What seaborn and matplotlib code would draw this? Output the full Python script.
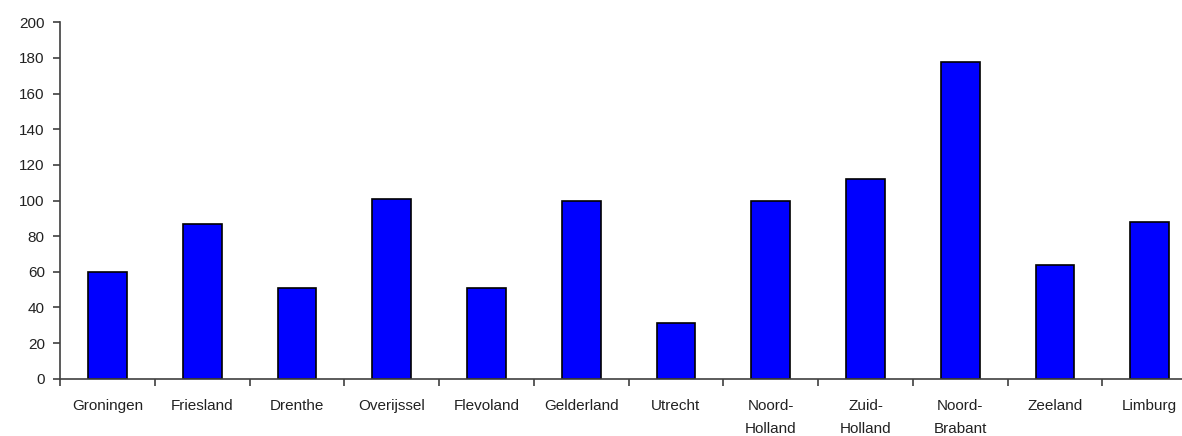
import matplotlib
matplotlib.use("Agg")
import matplotlib.pyplot as plt
import seaborn as sns
import pandas as pd
import numpy as np

provinces = ["Groningen", "Friesland", "Drenthe", "Overijssel", "Flevoland",
             "Gelderland", "Utrecht", "Noord-\nHolland", "Zuid-\nHolland",
             "Noord-\nBrabant", "Zeeland", "Limburg"]
counts = [60, 87, 51, 101, 51, 100, 31, 100, 112, 178, 64, 88]
y_ticks = [0, 20, 40, 60, 80, 100, 120, 140, 160, 180, 200]

sns.set_style("white")
plt.rcParams["font.family"] = ["Liberation Sans", "DejaVu Sans"]

df = pd.DataFrame({"provincie": provinces, "aantal": counts})

fig = plt.figure(figsize=(11.82, 4.36), dpi=100)
ax = fig.add_axes([0.0508, 0.1314, 0.962, 0.8174])

sns.barplot(data=df, x="provincie", y="aantal", color="#0000ff",
            edgecolor="black", linewidth=1.2, width=0.41, saturation=1,
            ax=ax)

axis_col = "#404040"
text_col = "#222222"

ax.set_xlim(-0.5, len(provinces) - 0.5)
ax.set_ylim(0, 200)
ax.set_yticks(y_ticks)
ax.set_xlabel("")
ax.set_ylabel("")

for side in ("top", "right"):
    ax.spines[side].set_visible(False)
for side in ("left", "bottom"):
    ax.spines[side].set_color(axis_col)
    ax.spines[side].set_linewidth(1.2)

# category labels centred under bars, tick marks on the category borders
ax.set_xticks(np.arange(len(provinces)))
ax.set_xticklabels(provinces, fontsize=11, color=text_col, linespacing=1.85)
ax.set_xticks(np.arange(len(provinces)) - 0.5, minor=True)
ax.tick_params(axis="x", which="major", length=0, pad=14.5)
ax.tick_params(axis="x", which="minor", length=5, width=1.2,
               color=axis_col, direction="out", bottom=True)
ax.tick_params(axis="y", which="major", length=5, width=1.2,
               color=axis_col, direction="out", left=True, pad=6,
               labelsize=11, labelcolor=text_col)

fig.savefig("out.png", dpi=100)
